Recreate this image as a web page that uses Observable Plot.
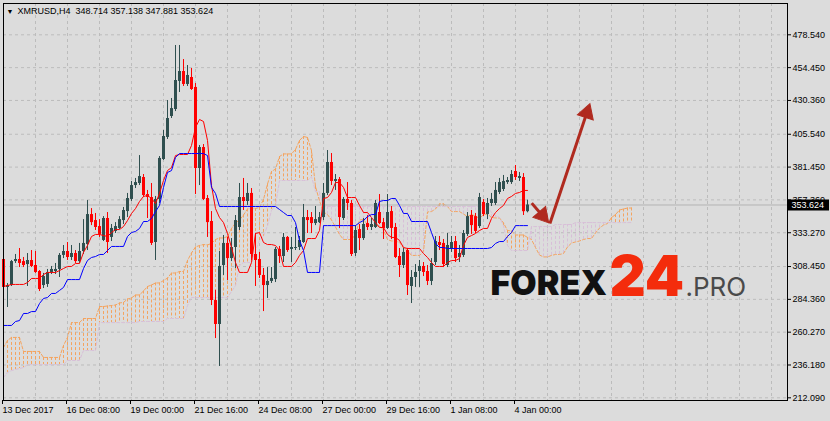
<!DOCTYPE html>
<html><head><meta charset="utf-8">
<script src="https://cdn.jsdelivr.net/npm/d3@7"></script>
<script src="https://cdn.jsdelivr.net/npm/@observablehq/plot@0.6"></script>
<style>
html,body{margin:0;padding:0;background:#dcdcdc;}
#chart svg{display:block;}
</style></head><body><div id="chart"></div>
<script>
// H4 candles, bar 0 = 13 Dec 2017 16:00
const open = [313.6,293.1,294.5,312.1,313.6,312.1,309.9,312.9,309.2,304.8,
 294.5,295.3,304.1,304.8,306.3,316.6,319.5,315.1,318.0,312.1,
 319.5,324.6,346.6,342.2,337.8,327.6,343.7,329.8,334.2,336.4,
 342.2,348.8,357.7,367.9,369.4,373.8,361.3,359.1,326.1,357.7,
 387.0,403.2,418.6,423.7,444.3,451.6,442.1,447.2,439.9,380.4,
 395.8,358.4,341.5,283.5,265.9,309.2,325.4,314.3,322.4,337.1,
 359.1,356.2,362.1,317.3,313.6,301.9,294.5,297.5,298.9,321.0,
 315.8,329.8,321.0,321.7,322.4,326.1,344.4,344.4,340.0,340.7,
 344.4,362.1,384.8,370.9,372.3,343.7,357.7,354.7,318.0,335.6,
 329.0,340.0,337.1,337.1,348.1,340.7,336.4,348.8,337.1,315.8,
 309.2,320.2,293.8,300.4,304.8,308.5,304.8,297.5,311.4,326.1,
 325.4,309.2,321.7,326.8,315.1,316.6,332.0,345.9,345.1,337.8,
 355.5,346.6,354.7,354.7,362.8,365.0,370.1,370.1,378.2,373.1,
 373.8,348.714];
const high = [314.3,296.0,312.9,317.3,321.7,315.1,318.0,320.2,319.5,305.5,
 303.4,306.3,308.5,310.7,318.0,323.9,326.1,323.9,320.2,325.4,
 342.9,356.9,351.0,347.4,342.9,345.1,348.1,339.3,340.7,345.1,
 351.8,362.1,370.9,373.1,389.9,376.0,364.3,369.4,359.9,389.2,
 408.3,430.3,431.8,470.7,470.7,460.4,456.0,453.8,442.8,397.3,
 398.0,360.6,348.8,290.9,319.5,331.2,329.8,329.0,345.9,369.4,
 373.1,369.4,365.7,332.7,318.8,307.0,307.7,307.7,322.4,323.2,
 332.7,330.5,329.8,337.1,330.5,354.0,349.6,348.1,352.5,348.1,
 369.4,393.6,391.4,376.0,373.8,359.1,370.1,356.9,338.5,339.3,
 343.7,345.9,343.7,356.9,361.3,343.7,361.3,352.5,340.0,321.7,
 321.7,321.7,305.5,309.9,312.9,311.4,309.2,314.3,330.5,330.5,
 328.3,332.7,330.5,330.5,323.9,334.9,348.1,349.6,347.4,362.1,
 357.7,358.4,362.1,370.1,373.1,375.3,373.8,378.9,382.6,377.5,
 376.7,357.138];
const low = [292.3,278.4,293.8,310.7,307.7,307.7,293.8,307.7,303.4,290.1,
 292.3,293.1,302.6,302.6,300.4,314.3,312.9,312.9,310.7,310.7,
 317.3,320.2,338.5,334.9,329.8,326.8,318.0,326.8,332.7,335.6,
 339.3,344.4,356.2,365.7,367.9,359.1,343.7,323.9,312.9,354.7,
 386.3,401.7,417.1,422.2,436.2,440.6,440.6,437.7,361.3,367.9,
 356.9,329.8,279.8,255.6,235.1,301.9,298.2,312.1,307.0,334.9,
 349.6,353.3,312.9,293.8,299.7,275.4,285.0,296.0,296.7,310.7,
 311.4,318.8,311.4,320.2,320.2,325.4,332.7,332.7,338.5,340.0,
 342.2,360.6,367.9,364.3,336.4,342.2,349.6,315.8,315.8,320.2,
 327.6,334.9,334.9,336.4,339.3,328.3,335.6,328.3,314.3,300.4,
 307.0,287.2,281.3,293.1,293.1,301.1,294.5,294.5,309.2,320.2,
 307.7,307.7,318.8,311.4,311.4,315.1,330.5,332.0,332.7,336.4,
 345.1,342.9,352.5,353.3,361.3,363.5,368.7,368.7,371.6,370.9,
 345.9,347.881];
const close = [293.1,294.5,312.1,313.6,310.7,309.2,312.9,308.5,304.1,291.6,
 301.1,304.1,306.3,306.3,316.6,319.5,315.1,318.0,312.1,319.5,
 325.4,346.6,340.7,337.1,332.0,343.7,326.1,336.4,337.8,342.9,
 349.6,358.4,367.9,370.1,374.5,360.6,359.1,325.4,357.7,387.8,
 403.9,417.1,424.4,445.0,451.6,442.1,448.7,438.4,380.4,395.8,
 357.7,340.7,283.5,265.9,308.5,325.4,314.3,322.4,342.2,359.1,
 356.2,362.1,317.3,312.9,301.9,294.5,297.5,299.7,321.0,315.8,
 329.8,320.2,322.4,322.4,327.6,344.4,342.2,340.0,342.9,344.4,
 362.1,384.8,370.9,372.3,344.4,357.7,354.7,317.3,334.9,329.0,
 339.3,337.1,339.3,354.7,340.0,336.4,348.1,336.4,315.1,309.2,
 318.8,294.5,300.4,304.1,308.5,304.1,297.5,310.7,326.8,323.9,
 309.9,323.9,326.1,314.3,318.0,332.7,345.1,338.5,334.2,359.1,
 346.6,354.7,357.7,364.3,370.1,370.9,371.6,376.0,373.8,374.5,
 348.7,353.624];
// Ichimoku: Tenkan-sen (red), Kijun-sen (blue)
const tenkan = [293.8,294.5,295.3,295.3,295.3,295.3,296.7,299.7,299.7,299.7,
 302.6,304.1,304.1,304.1,305.5,307.0,308.5,308.5,310.7,310.7,
 318.8,323.9,330.5,332.0,332.0,331.2,330.5,333.4,335.6,335.6,
 337.8,342.2,347.4,351.0,356.2,359.9,360.6,358.4,354.7,362.1,
 371.6,378.9,381.1,389.9,390.7,390.7,390.7,397.3,410.5,416.4,
 414.9,401.0,367.9,351.0,344.4,340.7,332.7,322.4,311.4,304.1,
 304.1,304.1,311.4,332.7,333.4,326.1,324.6,324.6,323.9,320.2,
 308.5,308.5,308.5,311.4,316.6,320.2,329.0,329.0,329.0,334.9,
 358.4,359.1,362.8,370.1,370.1,366.5,359.1,359.1,359.1,353.3,
 348.1,348.1,344.4,340.7,337.1,337.1,332.0,329.8,329.8,327.6,
 322.4,321.7,321.7,321.7,321.7,318.0,315.1,311.4,308.5,308.5,
 308.5,311.4,312.9,312.9,314.3,323.9,329.8,331.2,332.7,334.9,
 336.4,336.4,343.7,348.1,351.0,353.3,358.4,359.9,362.1,362.8,
 364.3,364.3];
const kijun = [265.2,265.2,265.2,268.1,268.8,274.0,274.0,275.4,275.4,281.3,
 285.0,285.7,288.7,288.7,290.9,293.1,298.9,298.9,298.9,298.9,
 307.0,312.9,315.1,315.8,317.3,317.3,320.2,323.2,323.2,323.2,
 323.2,330.5,333.4,334.2,336.4,341.5,341.5,343.7,348.8,353.3,
 366.5,377.5,378.9,388.5,391.4,391.4,391.4,391.4,391.4,391.4,
 391.4,389.9,366.5,362.1,352.5,352.5,352.5,352.5,352.5,352.5,
 352.5,352.5,352.5,352.5,352.5,352.5,352.5,352.5,352.5,350.3,
 348.1,345.9,345.9,340.7,327.6,320.2,304.1,304.1,304.1,304.1,
 338.5,338.5,338.5,338.5,338.5,338.5,338.5,338.5,338.5,340.7,
 342.2,345.1,346.6,346.6,356.2,356.9,356.9,358.4,358.4,353.3,
 347.4,347.4,341.5,341.5,341.5,341.5,341.5,333.4,325.4,322.4,
 322.4,321.7,321.7,321.7,321.7,321.7,321.7,321.7,321.7,321.7,
 321.7,321.7,322.4,325.4,326.8,326.8,330.5,333.4,338.5,338.5,
 338.5,338.5];
// Senkou span A (SandyBrown) and B (Thistle), shifted 26 bars ahead
const spanA = [249.0,254.2,256.4,256.4,256.4,246.1,246.1,246.1,246.1,246.1,
 241.7,241.7,241.7,241.7,241.7,250.5,256.4,267.3,267.3,267.3,
 270.3,270.3,270.3,270.3,279.1,279.1,279.5,279.8,280.2,281.7,
 282.1,284.6,285.4,287.6,287.6,290.5,293.8,294.9,296.4,296.4,
 298.2,300.0,303.7,303.7,304.8,304.8,312.9,318.4,322.8,323.9,
 324.6,324.3,325.4,328.3,329.4,329.4,330.5,336.4,340.4,342.6,
 346.3,350.7,351.0,351.0,351.8,357.7,369.0,378.2,380.0,389.2,
 391.1,391.1,391.1,394.4,401.0,403.9,403.2,393.6,367.2,356.6,
 348.5,346.6,342.6,337.5,332.0,328.3,328.3,328.3,332.0,342.6,
 343.0,339.3,338.5,338.5,338.2,335.3,328.3,327.2,327.2,326.1,
 322.1,320.2,316.6,316.6,316.6,319.5,348.5,348.8,350.7,354.4,
 354.4,352.5,348.8,348.8,348.8,347.0,345.1,346.6,345.5,343.7,
 346.6,347.0,344.4,344.1,344.1,340.4,334.9,334.5,331.6,331.6,
 331.6,329.8,328.3,322.4,316.9,315.5,315.5,316.6,317.3,317.3,
 318.0,322.8,325.7,326.5,327.2,328.3,329.0,329.0,333.1,336.7,
 338.9,340.0,344.4,346.6,349.9,350.7,351.4,351.4];
const spanB = [227.0,230.7,232.1,232.9,233.6,234.3,236.5,236.5,236.5,236.5,
 236.5,236.5,236.5,236.5,236.5,236.5,239.5,239.5,239.5,239.5,
 246.8,246.8,246.8,246.8,267.3,267.3,267.3,267.3,267.3,267.3,
 267.3,267.3,267.3,267.3,268.1,268.1,268.1,268.1,268.1,268.1,
 268.1,270.3,270.3,270.3,270.3,270.3,279.8,285.7,285.7,285.7,
 285.7,285.7,285.7,285.7,285.7,285.7,285.7,290.1,294.5,309.2,
 311.4,311.4,311.4,320.2,327.6,330.5,338.5,349.6,353.3,371.6,
 371.6,371.6,371.6,371.6,371.6,371.6,371.6,374.5,363.5,363.5,
 352.5,352.5,352.5,352.5,352.5,352.5,352.5,352.5,352.5,352.5,
 352.5,352.5,352.5,352.5,352.5,352.5,352.5,352.5,352.5,352.5,
 352.5,352.5,352.5,352.5,352.5,352.5,352.5,352.5,352.5,352.5,
 352.5,352.5,352.5,352.5,352.5,352.5,352.5,352.5,352.5,352.5,
 352.5,352.5,348.1,345.9,344.4,338.5,323.9,320.2,320.2,320.2,
 320.2,320.2,337.8,337.8,337.8,337.8,337.8,337.8,339.3,339.3,
 339.3,339.3,339.3,340.7,340.7,340.7,340.7,340.7,340.7,340.7,
 340.7,340.7,340.7,340.7,340.7,340.7,340.7,340.7];
// axes
const yTicks = [478.54,454.45,430.36,405.54,381.45,357.36,333.27,308.45,284.36,260.27,236.18,212.09];
const xTickBars = [0,16,32,48,64,80,96,112,128];
const xTickLabels = ["13 Dec 2017","16 Dec 08:00","19 Dec 00:00","21 Dec 16:00","24 Dec 08:00","27 Dec 00:00","29 Dec 16:00","1 Jan 08:00","4 Jan 00:00"];
const gridBars = [0,8,16,24,32,40,48,56,64,72,80,88,96,104,112,120,128,136,144,152,160,168,176,184,192];
// drawn forecast arrows (bar index, price)
const arrowX1 = [132.05, 136.6];
const arrowY1 = [355.0, 340.0];
const arrowX2 = [136.3, 146.6];
const arrowY2 = [340.5, 428.0];
const symbol = "XMRUSD,H4";

const BULL = "#2f4f4f", BEAR = "#ff0000", SANDY = "#f4a460", THISTLE = "#d8bfd8", GRID = "#bcbcbc", ARROW = "#b02a1f";
const N = open.length, last = N - 1;
const fmt = d3.format(".3f");
const X_DOMAIN = [0, 196], Y_DOMAIN = [210.12, 501.52];
const PLOT_W = 784, PLOT_H = 397;
const KX = PLOT_W / (X_DOMAIN[1] - X_DOMAIN[0]), KY = PLOT_H / (Y_DOMAIN[1] - Y_DOMAIN[0]);
const candles = open.map((o, i) => ({i, o, h: high[i], l: low[i], c: close[i], up: close[i] >= o}));
const cloud = spanA.map((a, i) => ({i, a, b: spanB[i]}));
const lines = tenkan.map((t, i) => ({i, t, k: kijun[i]}));
const arrows = arrowX1.map((x1, j) => ({x1, y1: arrowY1[j], x2: arrowX2[j], y2: arrowY2[j]}));
// filled arrow heads: triangle tip placed on the arrow end
const HEAD_R = 6.2, HY = 0.7776 * HEAD_R;
const heads = arrows.map(a => {
  const sx = (a.x2 - a.x1) * KX, sy = -(a.y2 - a.y1) * KY;
  const len = Math.hypot(sx, sy), ux = sx / len, uy = sy / len;
  const back = 2 * HY;
  return {x: a.x2 - ux * back / KX, y: a.y2 + uy * back / KY, rotate: Math.atan2(ux, -uy) * 180 / Math.PI,
          lx: a.x2 - ux * 2.5 * HY / KX, ly: a.y2 + uy * 2.5 * HY / KY, x1: a.x1, y1: a.y1};
});
const labelMap = new Map(xTickBars.map((b, j) => [b, xTickLabels[j]]));
const title = `${symbol}\u00a0\u00a0${fmt(open[last])} ${fmt(high[last])} ${fmt(low[last])} ${fmt(close[last])}`;

const chart = Plot.plot({
  width: 830, height: 421,
  marginLeft: 3, marginRight: 43, marginTop: 3, marginBottom: 21,
  style: {background: "#dcdcdc", fontFamily: "'Liberation Sans', Arial, sans-serif", fontSize: "9px", color: "#000"},
  x: {type: "linear", domain: X_DOMAIN, axis: null},
  y: {type: "linear", domain: Y_DOMAIN, axis: null},
  color: {type: "identity"},
  marks: [
    Plot.ruleY(yTicks, {stroke: GRID, strokeDasharray: "3,3"}),
    Plot.ruleX(gridBars, {stroke: GRID, strokeDasharray: "3,3"}),
    Plot.ruleX(cloud, {x: "i", y1: "a", y2: "b", stroke: d => d.a >= d.b ? SANDY : THISTLE, strokeDasharray: "3,2"}),
    Plot.line(cloud, {x: "i", y: "a", stroke: SANDY, strokeWidth: 1, strokeDasharray: "3,2"}),
    Plot.line(cloud, {x: "i", y: "b", stroke: THISTLE, strokeWidth: 1, strokeDasharray: "3,2"}),
    Plot.ruleY([close[last]], {stroke: "#b4b4b4"}),
    Plot.ruleX(candles, {x: "i", y1: "l", y2: "h", stroke: d => d.up ? BULL : BEAR}),
    Plot.ruleX(candles, {x: "i", y1: "o", y2: "c", stroke: d => d.up ? BULL : BEAR, strokeWidth: 3}),
    Plot.line(lines, {x: "i", y: "t", stroke: "#ff0000", strokeWidth: 1}),
    Plot.line(lines, {x: "i", y: "k", stroke: "#0000ff", strokeWidth: 1}),
    Plot.link(heads, {x1: "x1", y1: "y1", x2: "lx", y2: "ly", stroke: ARROW, strokeWidth: 3}),
    Plot.dot(heads, {x: "x", y: "y", symbol: "triangle", r: HEAD_R, rotate: "rotate", fill: ARROW, stroke: ARROW, strokeWidth: 1}),
    Plot.frame({stroke: "#000"}),
    Plot.axisY(yTicks, {anchor: "right", tickSize: 3, tickPadding: 2, tickFormat: fmt}),
    Plot.axisX(xTickBars, {anchor: "bottom", tickSize: 4, tickPadding: 2, tickFormat: d => labelMap.get(d), textAnchor: "start", dx: -1}),
    Plot.ruleY([close[last]], {stroke: "#000", strokeWidth: 11, insetLeft: 785, insetRight: -42}),
    Plot.text([close[last]], {y: d => d, text: d => fmt(d), frameAnchor: "right", textAnchor: "start", dx: 4, fill: "#fff"}),
    Plot.text(["\u25BC"], {frameAnchor: "top-left", dx: 3, dy: 8, textAnchor: "start", lineAnchor: "middle", fontSize: 7}),
    Plot.text([title], {frameAnchor: "top-left", dx: 14, dy: 8, textAnchor: "start", lineAnchor: "middle"}),
    Plot.text(["FOREX"], {frameAnchor: "top-left", dx: 487, dy: 291, textAnchor: "start", lineAnchor: "bottom", fontSize: 34, fontWeight: 900, fontFamily: "Inter, 'Open Sans', sans-serif", fill: "#111"}),
    Plot.text(["24"], {frameAnchor: "top-left", dx: 606, dy: 292, textAnchor: "start", lineAnchor: "bottom", fontSize: 56, fontWeight: 900, fontFamily: "Inter, 'Open Sans', sans-serif", fill: "#f42c0c"}),
    Plot.text([".PRO"], {frameAnchor: "top-left", dx: 682, dy: 292, textAnchor: "start", lineAnchor: "bottom", fontSize: 26, fontWeight: 400, fontFamily: "Inter, 'Open Sans', sans-serif", fill: "#4a4a4a"})
  ]
});
document.getElementById("chart").append(chart);
</script>
</body></html>
